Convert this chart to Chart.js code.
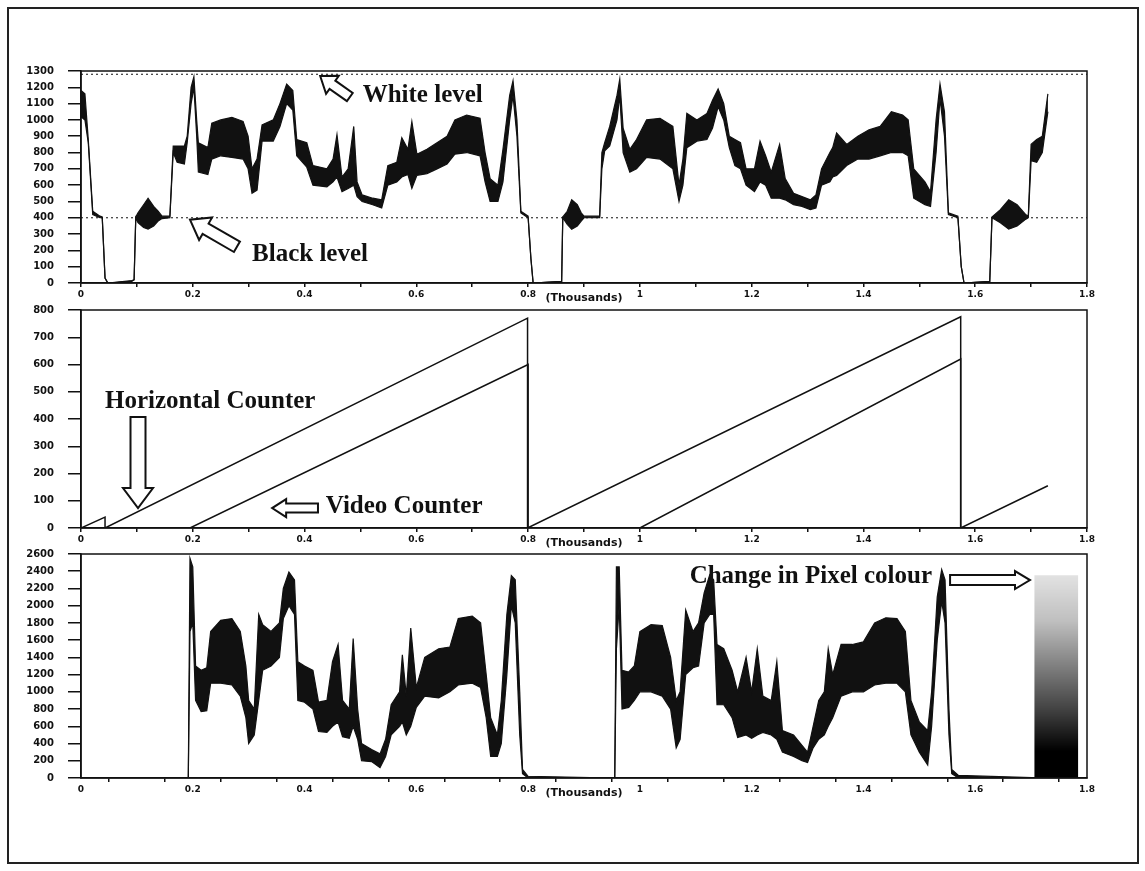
<!DOCTYPE html>
<html>
<head>
<meta charset="utf-8">
<script src="https://cdn.jsdelivr.net/npm/chart.js@4.4.1/dist/chart.umd.min.js"></script>
<style>
  body { margin: 0; background: #fff; }
  #frame { position: absolute; left: 7px; top: 7px; width: 1128px; height: 853px; border: 2px solid #222; }
  canvas { position: absolute; left: 0; }
</style>
</head>
<body>
<div id="frame"></div>
<canvas id="c1" width="1145" height="254" style="top:51px"></canvas>
<canvas id="c2" width="1145" height="260" style="top:290px"></canvas>
<canvas id="c3" width="1145" height="266" style="top:534px"></canvas>
<script>
// ---- top panel: composite video line, noise drawn as low/high envelope
const sigX  = [0.000, 0.007, 0.013, 0.021, 0.034, 0.038, 0.043, 0.048, 0.091, 0.095, 0.098, 0.102, 0.112, 0.120, 0.130, 0.138, 0.145, 0.159, 0.165, 0.172,
               0.185, 0.190, 0.197, 0.202, 0.207, 0.210, 0.227, 0.234, 0.250, 0.270, 0.290, 0.299, 0.306, 0.315, 0.324, 0.344, 0.356, 0.368, 0.379, 0.386,
               0.404, 0.415, 0.440, 0.451, 0.458, 0.467, 0.478, 0.488, 0.494, 0.503, 0.522, 0.538, 0.549, 0.565, 0.574, 0.585, 0.592, 0.601, 0.619, 0.637,
               0.655, 0.669, 0.690, 0.714, 0.723, 0.732, 0.746, 0.755, 0.767, 0.773, 0.780, 0.787, 0.800, 0.805, 0.809, 0.860, 0.862, 0.870, 0.878, 0.888,
               0.895, 0.900, 0.928, 0.932, 0.937, 0.946, 0.959, 0.964, 0.970, 0.982, 0.994, 1.012, 1.036, 1.059, 1.070, 1.077, 1.084, 1.102, 1.120, 1.130,
               1.140, 1.150, 1.160, 1.170, 1.180, 1.190, 1.205, 1.215, 1.225, 1.235, 1.250, 1.260, 1.275, 1.290, 1.305, 1.315, 1.325, 1.340, 1.345, 1.352,
               1.370, 1.390, 1.410, 1.430, 1.450, 1.470, 1.480, 1.490, 1.510, 1.520, 1.530, 1.537, 1.545, 1.552, 1.569, 1.575, 1.580, 1.626, 1.630, 1.645,
               1.660, 1.675, 1.690, 1.695, 1.700, 1.710, 1.720, 1.730];
const sigLo = [1020, 1000, 860, 420, 400, 400, 30, 0, 10, 20, 400, 370, 340, 330, 350, 380, 395, 400, 800, 740,
               730, 860, 1100, 1200, 900, 680, 665, 760, 780, 770, 760, 700, 550, 570, 870, 870, 960, 1100, 1060, 780,
               710, 600, 590, 620, 650, 560, 580, 600, 530, 500, 480, 460, 600, 620, 650, 665, 580, 660, 670, 700,
               730, 790, 800, 780, 620, 500, 500, 620, 1000, 1150, 900, 430, 400, 150, 0, 10, 400, 360, 330, 350,
               380, 400, 400, 700, 810, 840, 1000, 1150, 800, 680, 700, 770, 760, 700, 500, 600, 830, 870, 880, 950,
               1080, 1000, 830, 720, 700, 600, 560, 620, 600, 520, 520, 510, 480, 470, 450, 460, 600, 620, 650, 660,
               720, 760, 760, 780, 800, 800, 780, 520, 480, 470, 800, 1130, 900, 420, 400, 100, 0, 10, 400, 370,
               330, 350, 390, 400, 750, 740, 800, 1050];
const sigHi = [1180, 1160, 880, 440, 410, 405, 30, 0, 15, 20, 405, 430, 480, 520, 470, 440, 410, 410, 840, 840,
               840, 900, 1200, 1265, 1000, 860, 830, 980, 1000, 1016, 990, 900, 700, 760, 970, 1000, 1100, 1220, 1180, 880,
               860, 720, 700, 760, 910, 650, 700, 960, 620, 540, 520, 510, 720, 740, 890, 820, 990, 790, 820, 860,
               900, 1000, 1030, 1010, 800, 640, 600, 820, 1150, 1240, 1000, 440, 410, 150, 0, 10, 405, 440, 510, 480,
               430, 410, 410, 800, 860, 960, 1150, 1250, 950, 820, 880, 1000, 1010, 960, 600, 760, 1040, 1000, 1040, 1120,
               1190, 1100, 900, 880, 860, 700, 700, 870, 780, 680, 850, 640, 550, 530, 510, 540, 700, 800, 830, 920,
               850, 900, 940, 960, 1050, 1030, 1000, 700, 620, 560, 1000, 1220, 1050, 430, 410, 100, 0, 10, 405, 450,
               510, 480, 420, 410, 850, 880, 900, 1160];
const blackLevel = 400;
const whiteLevel = 1280;

// ---- middle panel: counters
const hcX = [0, 0.043, 0.043, 0.799, 0.799, 1.574, 1.574, 1.730];
const hcY = [0, 40, 0, 770, 0, 775, 0, 155];
const vcX = [0, 0.195, 0.800, 0.800, 1.000, 1.574, 1.574, 1.730];
const vcY = [0, 0, 600, 0, 0, 620, 0, 0];

// ---- bottom panel: pixel colour
const pixX  = [0.000, 0.190, 0.192, 0.195, 0.200, 0.205, 0.215, 0.225, 0.232, 0.250, 0.270, 0.285, 0.295, 0.300, 0.310, 0.318, 0.325, 0.340, 0.355, 0.362,
               0.372, 0.382, 0.388, 0.400, 0.415, 0.425, 0.440, 0.450, 0.460, 0.468, 0.480, 0.487, 0.495, 0.502, 0.520, 0.535, 0.545, 0.555, 0.570, 0.575,
               0.582, 0.590, 0.600, 0.615, 0.640, 0.660, 0.675, 0.700, 0.715, 0.725, 0.733, 0.745, 0.752, 0.762, 0.770, 0.777, 0.785, 0.790, 0.800, 0.955,
               0.958, 0.963, 0.968, 0.980, 0.990, 1.000, 1.020, 1.040, 1.055, 1.065, 1.072, 1.082, 1.095, 1.105, 1.115, 1.125, 1.132, 1.138, 1.150, 1.165,
               1.175, 1.190, 1.200, 1.210, 1.220, 1.235, 1.245, 1.255, 1.275, 1.290, 1.300, 1.310, 1.320, 1.330, 1.337, 1.345, 1.360, 1.380, 1.400, 1.420,
               1.440, 1.460, 1.475, 1.485, 1.500, 1.515, 1.522, 1.532, 1.540, 1.546, 1.553, 1.558, 1.570, 1.730];
const pixLo = [0, 0, 0, 1700, 1800, 900, 770, 780, 1100, 1100, 1080, 950, 700, 400, 500, 900, 1250, 1300, 1400, 1850,
               2000, 1900, 900, 880, 800, 540, 530, 600, 650, 480, 460, 600, 450, 200, 190, 120, 250, 500, 600, 650,
               500, 600, 820, 950, 930, 1000, 1080, 1100, 1050, 700, 250, 250, 400, 1200, 2000, 1800, 500, 50, 0, 0,
               1500, 2000, 800, 820, 900, 1000, 1000, 950, 800, 350, 450, 1200, 1280, 1300, 1800, 1900, 1900, 850, 850, 700,
               470, 500, 460, 500, 530, 500, 450, 300, 250, 200, 180, 350, 450, 500, 600, 700, 950, 1000, 1000, 1080,
               1100, 1100, 1000, 500, 300, 150, 600, 1600, 2050, 1800, 500, 50, 0, 0];
const pixHi = [0, 0, 0, 2550, 2450, 1300, 1250, 1280, 1700, 1830, 1850, 1700, 1300, 900, 800, 1900, 1780, 1700, 1800, 2200,
               2390, 2300, 1350, 1300, 1250, 880, 900, 1350, 1550, 900, 800, 1620, 800, 400, 330, 280, 450, 850, 1000, 1430,
               950, 1740, 1050, 1400, 1500, 1520, 1850, 1880, 1800, 1200, 700, 500, 900, 1900, 2350, 2300, 1000, 100, 20, 0,
               2450, 2450, 1250, 1230, 1300, 1700, 1780, 1770, 1400, 900, 1000, 1950, 1700, 1800, 2150, 2360, 2300, 1550, 1500, 1250,
               1000, 1400, 1000, 1500, 950, 900, 1350, 550, 500, 380, 300, 600, 900, 1000, 1500, 1200, 1550, 1550, 1580, 1800,
               1860, 1850, 1700, 900, 650, 550, 1000, 2100, 2420, 2300, 800, 100, 30, 0];
const colourBarX = 1.745;
const colourBarTop = 2350;

const pts = (xs, ys) => xs.map((x, i) => ({ x, y: ys[i] }));
const ink = '#111';
const tickFont = { family: 'DejaVu Sans', size: 10, weight: 'bold' };

function hollowArrow(ctx, x1, y1, x2, y2, w, hw, hl) {
  const len = Math.hypot(x2 - x1, y2 - y1);
  const b = len - hl;
  ctx.save();
  ctx.translate(x1, y1);
  ctx.rotate(Math.atan2(y2 - y1, x2 - x1));
  ctx.beginPath();
  ctx.moveTo(0, -w / 2);
  ctx.lineTo(b, -w / 2);
  ctx.lineTo(b, -hw / 2);
  ctx.lineTo(len, 0);
  ctx.lineTo(b, hw / 2);
  ctx.lineTo(b, w / 2);
  ctx.lineTo(0, w / 2);
  ctx.closePath();
  ctx.fillStyle = '#fff';
  ctx.fill();
  ctx.lineWidth = 2;
  ctx.strokeStyle = ink;
  ctx.stroke();
  ctx.restore();
}

// frame round the plot area plus the hand-drawn notes
const decor = {
  id: 'decor',
  afterDatasetsDraw(chart, args, opts) {
    const { ctx, chartArea: a, scales: { x, y } } = chart;
    ctx.save();
    ctx.strokeStyle = ink;
    ctx.lineWidth = 1.5;
    ctx.strokeRect(a.left, a.top, a.width, a.height);
    ctx.fillStyle = ink;
    ctx.font = 'bold 25px "Liberation Serif"';
    ctx.textBaseline = 'alphabetic';
    (opts.notes || []).forEach(n => ctx.fillText(n.text, x.getPixelForValue(n.x), y.getPixelForValue(n.y)));
    (opts.arrows || []).forEach(r => hollowArrow(ctx,
      x.getPixelForValue(r.x1), y.getPixelForValue(r.y1),
      x.getPixelForValue(r.x2), y.getPixelForValue(r.y2), r.w, r.hw, r.hl));
    ctx.restore();
  }
};

function xAxis() {
  return {
    type: 'linear', min: 0, max: 1.8, offset: false,
    ticks: {
      stepSize: 0.1, autoSkip: false, maxRotation: 0, padding: 2, color: ink,
      font: { family: 'DejaVu Sans', size: 9, weight: 'bold' },
      callback: v => { const k = Math.round(v * 10); return k % 2 ? '' : String(k / 10); }
    },
    grid: { drawOnChartArea: false, tickLength: 4, color: ink, lineWidth: 1.5 },
    border: { color: ink, width: 1.5 },
    title: { display: true, text: '(Thousands)', padding: 0, color: ink, font: { family: 'DejaVu Sans', size: 11, weight: 'bold' } },
    afterFit: s => { s.height = 22; }
  };
}

function yAxis(max, step) {
  return {
    type: 'linear', min: 0, max: max,
    ticks: { stepSize: step, padding: 14, color: ink, font: tickFont, callback: v => String(v) },
    grid: { drawOnChartArea: false, tickLength: 13, color: ink, lineWidth: 1.5 },
    border: { color: ink, width: 1.5 },
    afterFit: s => { s.width = 81; }
  };
}

function baseOptions(max, step, decorOpts) {
  return {
    responsive: false,
    animation: false,
    layout: { padding: { top: 0, right: 58, left: 0, bottom: 0 } },
    elements: { point: { radius: 0 }, line: { tension: 0 } },
    scales: { x: xAxis(), y: yAxis(max, step) },
    plugins: { legend: { display: false }, tooltip: { enabled: false }, decor: decorOpts }
  };
}

const trace = (data, extra) => Object.assign({ data, borderColor: ink, borderWidth: 1.2, pointRadius: 0, fill: false }, extra);

new Chart(document.getElementById('c1'), {
  type: 'line',
  data: {
    datasets: [
      trace(pts(sigX, sigLo)),
      trace(pts(sigX, sigHi), { fill: '-1', backgroundColor: ink }),
      trace(pts([0, 1.8], [blackLevel, blackLevel]), { borderWidth: 1, borderDash: [2, 3] }),
      trace(pts([0, 1.8], [whiteLevel, whiteLevel]), { borderWidth: 1, borderDash: [2, 3] })
    ]
  },
  options: baseOptions(1300, 100, {
    notes: [
      { text: 'White level', x: 0.504, y: 1109 },
      { text: 'Black level', x: 0.306, y: 136 }
    ],
    arrows: [
      { x1: 0.481, y1: 1140, x2: 0.428, y2: 1269, w: 10, hw: 22, hl: 15 },
      { x1: 0.279, y1: 222, x2: 0.195, y2: 388, w: 12, hw: 26, hl: 18 }
    ]
  }),
  plugins: [decor]
});

new Chart(document.getElementById('c2'), {
  type: 'line',
  data: {
    datasets: [
      trace(pts(hcX, hcY), { borderWidth: 1.5 }),
      trace(pts(vcX, vcY), { borderWidth: 1.5 })
    ]
  },
  options: baseOptions(800, 100, {
    notes: [
      { text: 'Horizontal Counter', x: 0.043, y: 440 },
      { text: 'Video Counter', x: 0.438, y: 55 }
    ],
    arrows: [
      { x1: 0.102, y1: 407, x2: 0.102, y2: 73, w: 15, hw: 30, hl: 20 },
      { x1: 0.424, y1: 73, x2: 0.342, y2: 73, w: 9, hw: 18, hl: 14 }
    ]
  }),
  plugins: [decor]
});

new Chart(document.getElementById('c3'), {
  type: 'line',
  data: {
    datasets: [
      trace(pts(pixX, pixLo)),
      trace(pts(pixX, pixHi), { fill: '-1', backgroundColor: ink }),
      {
        type: 'bar',
        data: [{ x: colourBarX, y: colourBarTop }],
        barThickness: 43,
        borderWidth: 0,
        backgroundColor: c => {
          const { ctx, chartArea } = c.chart;
          if (!chartArea) return '#777';
          const g = ctx.createLinearGradient(0, chartArea.top, 0, chartArea.bottom);
          g.addColorStop(0, 'rgba(0,0,0,0.05)');
          g.addColorStop(0.3, 'rgba(0,0,0,0.25)');
          g.addColorStop(0.7, 'rgba(0,0,0,0.75)');
          g.addColorStop(0.88, 'rgba(0,0,0,1)');
          g.addColorStop(1, 'rgba(0,0,0,1)');
          return g;
        }
      }
    ]
  },
  options: baseOptions(2600, 200, {
    notes: [
      { text: 'Change in Pixel colour', x: 1.089, y: 2262 }
    ],
    arrows: [
      { x1: 1.555, y1: 2297, x2: 1.698, y2: 2297, w: 10, hw: 18, hl: 15 }
    ]
  }),
  plugins: [decor]
});
</script>
</body>
</html>
